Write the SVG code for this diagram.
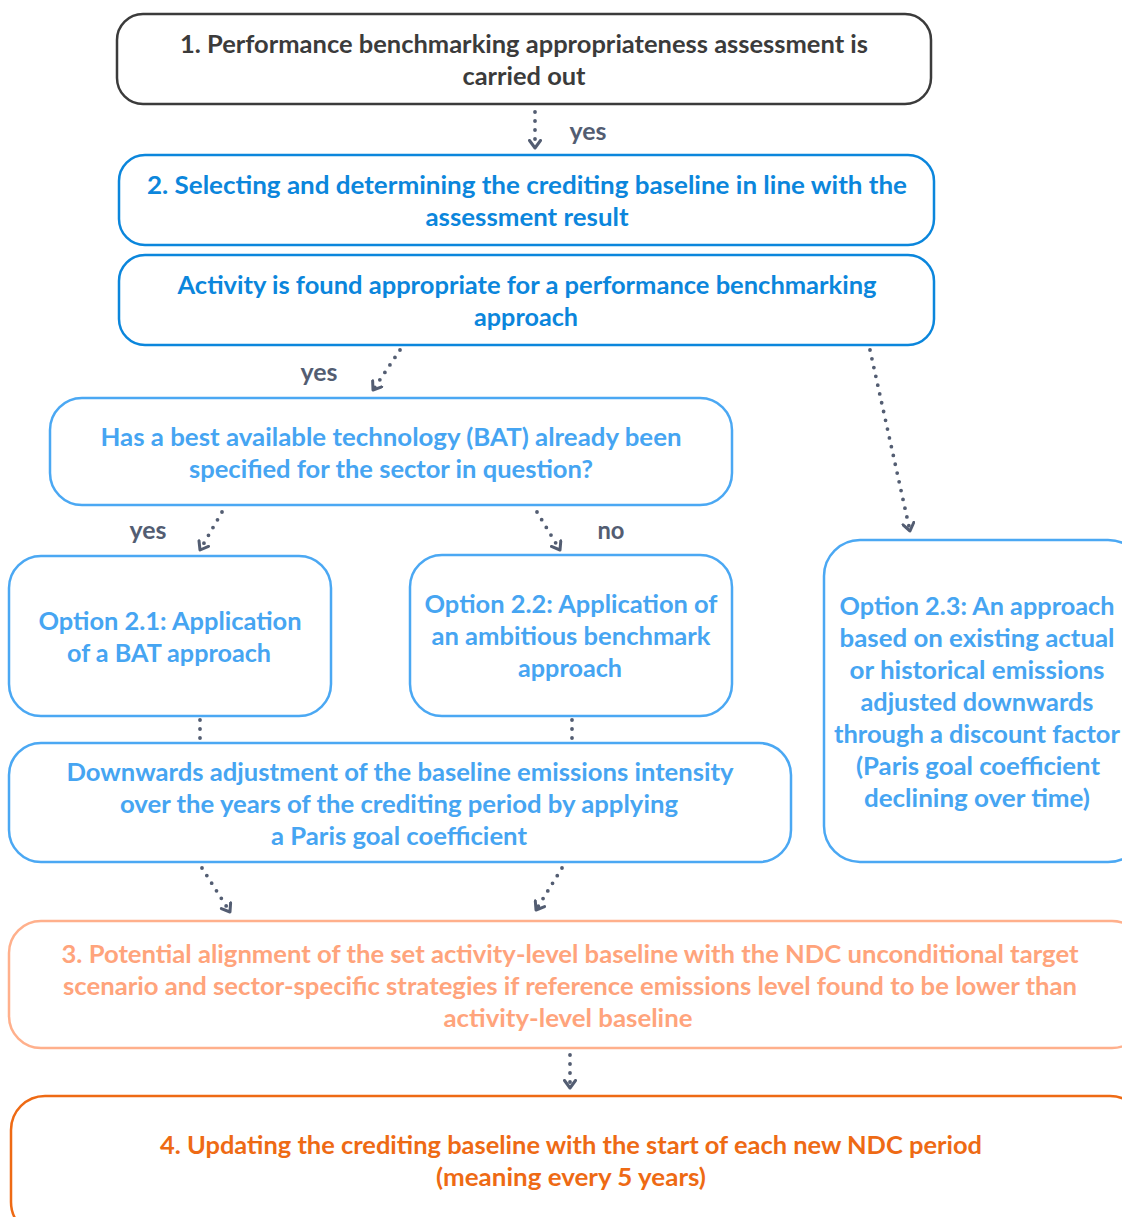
<svg xmlns="http://www.w3.org/2000/svg" width="1122" height="1217" viewBox="0 0 1122 1217">
<style>
.box{fill:#fff;stroke-width:2.5}
text{font-family:Lato,"Open Sans","Liberation Sans",sans-serif;font-weight:700;font-size:24px;text-anchor:middle}
.k{stroke:#3b3b3b}.kt{fill:#3b3b3b}
.b{stroke:#0b86dc}.bt{fill:#0b86dc}
.l{stroke:#4ba8f3}.lt{fill:#46a5f2}
.s{stroke:#ffb08c}.st{fill:#ffa47c}
.o{stroke:#ee6a14}.ot{fill:#ee6a14}
.c{fill:none;stroke:#535d72;stroke-width:3.8;stroke-linecap:round;stroke-dasharray:0 9}
.ca{marker-end:url(#chev)}
.lab{fill:#535d72}
</style>
<defs>
<marker id="chev" viewBox="0 0 12 14" refX="9" refY="7" markerWidth="12" markerHeight="14" markerUnits="userSpaceOnUse" orient="auto">
<path d="M1.5,1.5 L9,7 L1.5,12.5" fill="none" stroke="#535d72" stroke-width="3" stroke-linecap="round" stroke-linejoin="round"/>
</marker>
</defs>
<rect width="1122" height="1217" fill="#fff"/>
<g id="connectors">
<path class="c ca" d="M535,112 L535,148"/>
<path class="c ca" d="M400,350 L373,390"/>
<path class="c ca" d="M870,350 L910,531"/>
<path class="c ca" d="M222,512 L200,550"/>
<path class="c ca" d="M537,512 L560,550"/>
<path class="c" d="M200,720 L200,740"/>
<path class="c" d="M572,720 L572,740"/>
<path class="c ca" d="M202,868 L230,912"/>
<path class="c ca" d="M562,868 L536,910"/>
<path class="c ca" d="M570,1055 L570,1088"/>
<text class="lab" x="588" y="140" textLength="37" lengthAdjust="spacingAndGlyphs">yes</text>
<text class="lab" x="319" y="381" textLength="37" lengthAdjust="spacingAndGlyphs">yes</text>
<text class="lab" x="148" y="539" textLength="37" lengthAdjust="spacingAndGlyphs">yes</text>
<text class="lab" x="611" y="539" textLength="27" lengthAdjust="spacingAndGlyphs">no</text>
</g>
<g id="n1">
<rect class="box k" x="117" y="14" width="814" height="90" rx="26"/>
<text class="kt" x="524" y="53" textLength="688" lengthAdjust="spacingAndGlyphs">1. Performance benchmarking appropriateness assessment is</text>
<text class="kt" x="524" y="85" textLength="123" lengthAdjust="spacingAndGlyphs">carried out</text>
</g>
<g id="n2">
<rect class="box b" x="119" y="155" width="815" height="90" rx="26"/>
<text class="bt" x="527" y="194" textLength="760" lengthAdjust="spacingAndGlyphs">2. Selecting and determining the crediting baseline in line with the</text>
<text class="bt" x="527" y="226" textLength="203" lengthAdjust="spacingAndGlyphs">assessment result</text>
</g>
<g id="n3">
<rect class="box b" x="119" y="255" width="815" height="90" rx="26"/>
<text class="bt" x="527" y="294" textLength="699" lengthAdjust="spacingAndGlyphs">Activity is found appropriate for a performance benchmarking</text>
<text class="bt" x="526" y="326" textLength="104" lengthAdjust="spacingAndGlyphs">approach</text>
</g>
<g id="n4">
<rect class="box l" x="50" y="398" width="682" height="107" rx="32"/>
<text class="lt" x="391" y="446" textLength="581" lengthAdjust="spacingAndGlyphs">Has a best available technology (BAT) already been</text>
<text class="lt" x="391" y="478" textLength="404" lengthAdjust="spacingAndGlyphs">specified for the sector in question?</text>
</g>
<g id="n5">
<rect class="box l" x="9" y="556" width="322" height="160" rx="32"/>
<text class="lt" x="170" y="630" textLength="263" lengthAdjust="spacingAndGlyphs">Option 2.1: Application</text>
<text class="lt" x="169" y="662" textLength="204" lengthAdjust="spacingAndGlyphs">of a BAT approach</text>
</g>
<g id="n6">
<rect class="box l" x="410" y="555" width="322" height="161" rx="32"/>
<text class="lt" x="571" y="613" textLength="293" lengthAdjust="spacingAndGlyphs">Option 2.2: Application of</text>
<text class="lt" x="571" y="645" textLength="279" lengthAdjust="spacingAndGlyphs">an ambitious benchmark</text>
<text class="lt" x="570" y="677" textLength="104" lengthAdjust="spacingAndGlyphs">approach</text>
</g>
<g id="n7">
<rect class="box l" x="824" y="540" width="320" height="322" rx="36"/>
<text class="lt" x="977" y="615" textLength="275" lengthAdjust="spacingAndGlyphs">Option 2.3: An approach</text>
<text class="lt" x="977" y="647" textLength="275" lengthAdjust="spacingAndGlyphs">based on existing actual</text>
<text class="lt" x="977" y="679" textLength="255" lengthAdjust="spacingAndGlyphs">or historical emissions</text>
<text class="lt" x="977" y="711" textLength="233" lengthAdjust="spacingAndGlyphs">adjusted downwards</text>
<text class="lt" x="977" y="743" textLength="286" lengthAdjust="spacingAndGlyphs">through a discount factor</text>
<text class="lt" x="978" y="775" textLength="244" lengthAdjust="spacingAndGlyphs">(Paris goal coefficient</text>
<text class="lt" x="977" y="807" textLength="226" lengthAdjust="spacingAndGlyphs">declining over time)</text>
</g>
<g id="n8">
<rect class="box l" x="9" y="743" width="782" height="119" rx="32"/>
<text class="lt" x="400" y="781" textLength="667" lengthAdjust="spacingAndGlyphs">Downwards adjustment of the baseline emissions intensity</text>
<text class="lt" x="399" y="813" textLength="558" lengthAdjust="spacingAndGlyphs">over the years of the crediting period by applying</text>
<text class="lt" x="399" y="845" textLength="256" lengthAdjust="spacingAndGlyphs">a Paris goal coefficient</text>
</g>
<g id="n9">
<rect class="box s" x="9" y="921" width="1135" height="127" rx="32"/>
<text class="st" x="570" y="963" textLength="1017" lengthAdjust="spacingAndGlyphs">3. Potential alignment of the set activity-level baseline with the NDC unconditional target</text>
<text class="st" x="570" y="995" textLength="1014" lengthAdjust="spacingAndGlyphs">scenario and sector-specific strategies if reference emissions level found to be lower than</text>
<text class="st" x="568" y="1027" textLength="249" lengthAdjust="spacingAndGlyphs">activity-level baseline</text>
</g>
<g id="n10">
<rect class="box o" x="11" y="1096" width="1133" height="140" rx="34"/>
<text class="ot" x="571" y="1154" textLength="822" lengthAdjust="spacingAndGlyphs">4. Updating the crediting baseline with the start of each new NDC period</text>
<text class="ot" x="571" y="1186" textLength="270" lengthAdjust="spacingAndGlyphs">(meaning every 5 years)</text>
</g>
</svg>
